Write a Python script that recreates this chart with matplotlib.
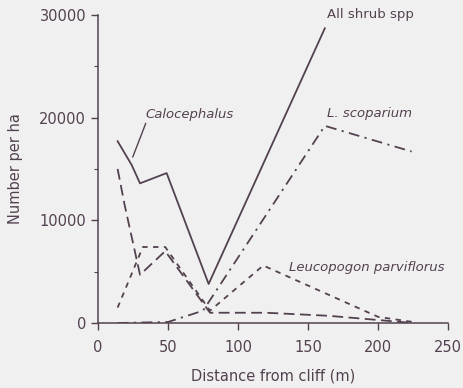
import matplotlib.pyplot as plt
from matplotlib.ticker import MultipleLocator

# values
all_x = [14, 24, 30, 49, 79, 162]
all_y = [17700, 15400, 13600, 14600, 3800, 28700]

calo_x = [14, 19, 30, 48, 80, 120, 165, 225]
calo_y = [15000, 11500, 4700, 7000, 1000, 1000, 700, 0]

leuco_x = [14, 32, 48, 80, 118, 200, 225]
leuco_y = [1500, 7400, 7400, 1200, 5600, 600, 100]

scop_x = [14, 50, 75, 162, 224]
scop_y = [0, 100, 1200, 19200, 16700]

ink = '#52424f'
bg = '#f1f0f1'

plt.rcParams['font.family'] = ['DejaVu Sans']
fig = plt.figure(figsize=(4.63, 3.88), dpi=100, facecolor=bg)
ax = fig.add_axes([0.2117, 0.1675, 0.756, 0.794], facecolor=bg)

ax.plot(all_x, all_y, color=ink, lw=1.3)
ax.plot(calo_x, calo_y, color=ink, lw=1.3, dashes=(6, 3))
ax.plot(leuco_x, leuco_y, color=ink, lw=1.3, dashes=(3, 3))
ax.plot(scop_x, scop_y, color=ink, lw=1.3, dashes=(6, 3, 1.2, 3))

ax.set_xlim(0, 250)
ax.set_ylim(0, 30000)
ax.set_xticks([0, 50, 100, 150, 200, 250])
ax.set_yticks([0, 10000, 20000, 30000])
ax.yaxis.set_minor_locator(MultipleLocator(5000))

for s in ['top', 'right']:
    ax.spines[s].set_visible(False)
for s in ['left', 'bottom']:
    ax.spines[s].set_color(ink)
    ax.spines[s].set_linewidth(1.1)

ax.tick_params(axis='both', which='major', direction='out', length=5, width=1,
               color=ink, labelcolor=ink, labelsize=10.5)
ax.tick_params(axis='x', which='major', pad=7)
ax.tick_params(axis='y', which='minor', direction='out', length=3, width=0.8, color=ink)

ax.set_xlabel('Distance from cliff (m)', fontsize=10.5, color=ink, labelpad=10)
ax.set_ylabel('Number per ha', fontsize=10.5, color=ink, labelpad=12)

ax.text(163.6, 30000, 'All shrub spp', fontsize=9.5, color=ink, va='center')
ax.text(163.6, 20450, 'L. scoparium', fontsize=9.5, color=ink, va='center', style='italic')
ax.text(136.4, 5450, 'Leucopogon parviflorus', fontsize=9.5, color=ink, va='center', style='italic')
ax.annotate('Calocephalus', xy=(24.8, 16160), xytext=(33.6, 20350), fontsize=9.5,
            color=ink, va='center', style='italic',
            arrowprops=dict(arrowstyle='-', color=ink, lw=1.0, shrinkA=0, shrinkB=0,
                            relpos=(0.02, 0.0)))

fig.savefig('out.png', dpi=100, facecolor=bg)
